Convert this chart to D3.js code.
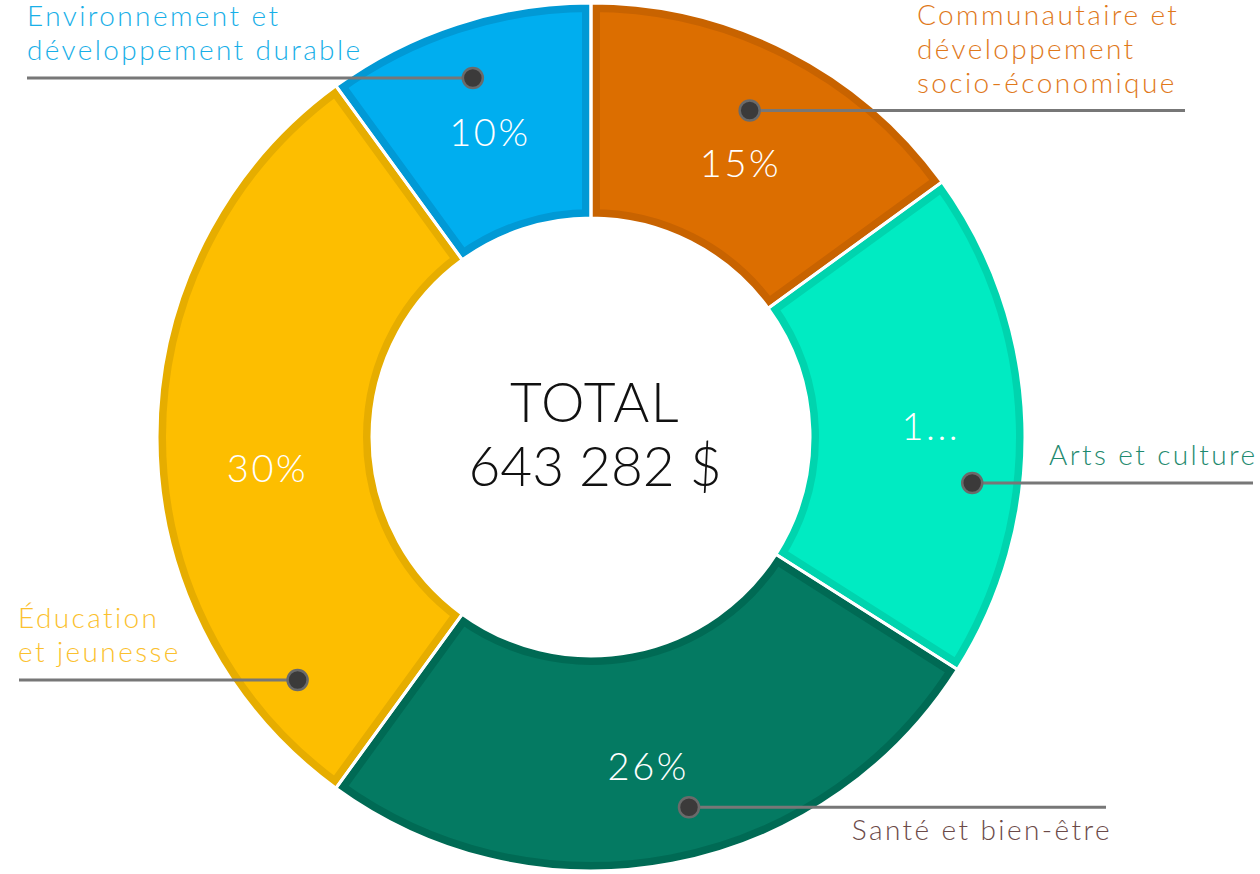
<!DOCTYPE html>
<html>
<head>
<meta charset="utf-8">
<script src="https://cdn.jsdelivr.net/npm/d3@7"></script>
<style>
  html, body { margin: 0; padding: 0; background: #fff; }
  svg { display: block; font-family: "Lato", "Noto Sans", sans-serif; }
</style>
</head>
<body>
<div id="chart"></div>
<script>
// ===== Data =====
const categories = [
  "Communautaire et développement socio-économique",
  "Arts et culture",
  "Santé et bien-être",
  "Éducation et jeunesse",
  "Environnement et développement durable"
];
const shares = [15, 19, 26, 30, 10];
const shownLabels = ["15%", "1...", "26%", "30%", "10%"];
const labelLines = [
  ["Communautaire et", "développement", "socio-économique"],
  ["Arts et culture"],
  ["Santé et bien-être"],
  ["Éducation", "et jeunesse"],
  ["Environnement et", "développement durable"]
];
const totalLines = ["TOTAL", "643 282 $"];

// couleurs : remplissage / bordure / texte
const fills   = ["#dc6e00", "#00ebc2", "#047a62", "#fdbe00", "#00aeef"];
const borders = ["#c86300", "#00d4ae", "#006a54", "#e6ad00", "#0199d5"];
const textCol = ["#e0781a", "#1f8a6f", "#6b4a48", "#fbc12e", "#18afe8"];

// ===== Layout =====
const W = 1260, H = 874;
const cx = 591, cy = 437;
const rOuter = 434, rInner = 219;
// point d'ancrage dans chaque part (fraction de l'angle, rayon)
const anchorFrac = [0.48, 0.627, 0.457, 0.133, 0.494];
const anchorR    = [363, 384, 383, 381, 378];
// position des pourcentages
const pctFrac = [0.53, 0.50, 0.51, 0.45, 0.49];
const pctR    = [312, 340, 334, 325, 321];
// placement des étiquettes : fin de ligne, x du texte, ancrage, au-dessus/dessous
const labelPos = [
  { lineEnd: 1185, tx: 917,  anchor: "start", below: false },
  { lineEnd: 1253, tx: 1049, anchor: "start", below: false },
  { lineEnd: 1106, tx: 1112, anchor: "end",   below: true  },
  { lineEnd: 19,   tx: 18,   anchor: "start", below: false },
  { lineEnd: 27,   tx: 27,   anchor: "start", below: false }
];

const polar = (a, f, r) => {
  const ang = a.startAngle + (a.endAngle - a.startAngle) * f;
  return [r * Math.sin(ang), -r * Math.cos(ang)];
};

const svg = d3.select("#chart").append("svg")
  .attr("width", W).attr("height", H);

const g = svg.append("g").attr("transform", `translate(${cx},${cy})`);

const pie = d3.pie().sort(null).value(d => d);
const arcs = pie(shares);
const arc = d3.arc().innerRadius(rInner).outerRadius(rOuter);

const defs = svg.append("defs");
arcs.forEach((a, i) => {
  defs.append("clipPath").attr("id", "clip" + i)
    .append("path").attr("d", arc(a));
});

// parts avec bordure intérieure plus foncée
g.selectAll(".slice")
  .data(arcs)
  .enter().append("path")
    .attr("class", "slice")
    .attr("d", arc)
    .attr("clip-path", (d, i) => `url(#clip${i})`)
    .attr("fill", (d, i) => fills[i])
    .attr("stroke", (d, i) => borders[i])
    .attr("stroke-width", 18);

// séparateurs blancs
g.selectAll(".sep")
  .data(arcs)
  .enter().append("path")
    .attr("d", arc)
    .attr("fill", "none")
    .attr("stroke", "#fff")
    .attr("stroke-width", 3);

// pourcentages
g.selectAll(".pct")
  .data(arcs)
  .enter().append("text")
    .attr("x", (d, i) => polar(d, pctFrac[i], pctR[i])[0])
    .attr("y", (d, i) => polar(d, pctFrac[i], pctR[i])[1] + 14)
    .attr("text-anchor", "middle")
    .attr("fill", "#fff")
    .style("font-size", "38px")
    .style("font-weight", 300)
    .style("letter-spacing", "2.5px")
    .text((d, i) => shownLabels[i]);

// total au centre
g.append("text")
  .attr("text-anchor", "middle")
  .attr("fill", "#111")
  .style("font-size", "55px")
  .style("font-weight", 300)
  .selectAll("tspan")
  .data(totalLines)
  .enter().append("tspan")
    .attr("x", 4)
    .attr("y", (d, i) => -15 + i * 64)
    .style("letter-spacing", (d, i) => i === 0 ? "1.5px" : "0px")
    .text(d => d);

// lignes de rappel + étiquettes
arcs.forEach((a, i) => {
  const [dx, dy] = polar(a, anchorFrac[i], anchorR[i]);
  const px = cx + dx, py = cy + dy;
  const lp = labelPos[i];

  svg.append("line")
    .attr("x1", px).attr("y1", py)
    .attr("x2", lp.lineEnd).attr("y2", py)
    .attr("stroke", "#777")
    .attr("stroke-width", 3);

  svg.append("circle")
    .attr("cx", px).attr("cy", py).attr("r", 10)
    .attr("fill", "#3b3a3a")
    .attr("stroke", "#6a6a6a")
    .attr("stroke-width", 2.5);

  const lines = labelLines[i];
  const lh = 34;
  const firstBase = lp.below ? py + 33 : py - 18 - (lines.length - 1) * lh;
  const t = svg.append("text")
    .attr("text-anchor", lp.anchor)
    .attr("fill", textCol[i])
    .style("font-size", "28px")
    .style("font-weight", 300)
    .style("letter-spacing", "2.4px");
  lines.forEach((s, k) => {
    t.append("tspan")
      .attr("x", lp.tx)
      .attr("y", firstBase + k * lh)
      .text(s);
  });
});
</script>
</body>
</html>
